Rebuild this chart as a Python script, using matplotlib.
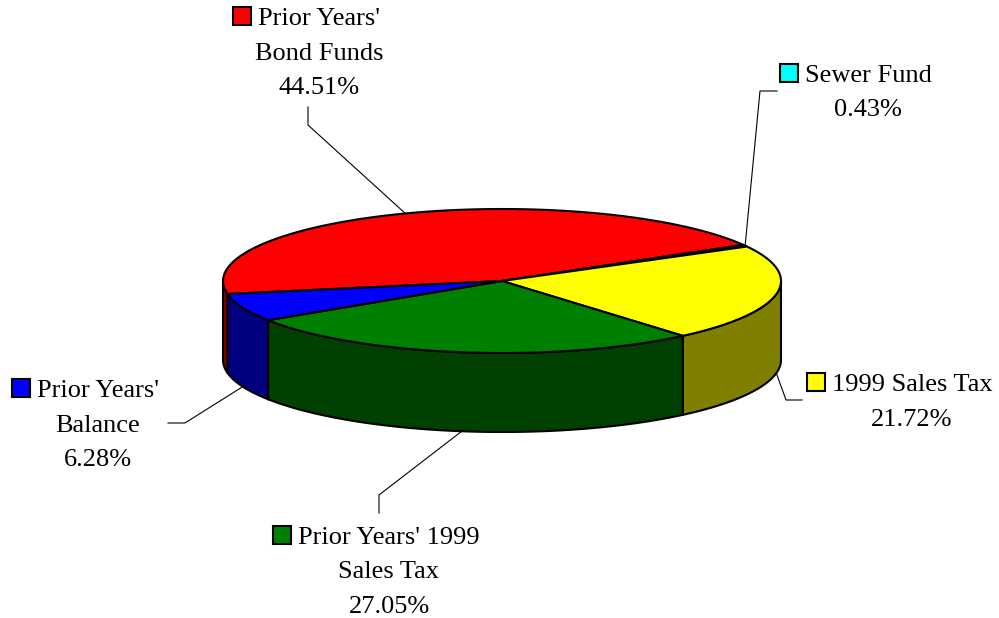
import numpy as np
import matplotlib
matplotlib.use("Agg")
import matplotlib.pyplot as plt
from matplotlib.patches import Polygon, Rectangle

# data
names = ["Prior Years'\nBond Funds", "Sewer Fund", "1999 Sales Tax",
         "Prior Years' 1999\nSales Tax", "Prior Years'\nBalance"]
shares = [44.51, 0.43, 21.72, 27.05, 6.28]
top_colors = ["#FF0000", "#00FFFF", "#FFFF00", "#008000", "#0000FF"]
side_colors = ["#800000", "#008080", "#808000", "#004000", "#000080"]

# layout, in pixels from top-left
cx, cy = 502, 281
rx, ry = 279, 72
depth = 79
start_angle = 190.4
label_pos = [(319, 25), (868, 82), (912, 391), (389, 544), (98, 397)]
attach_on_top = [True, True, False, False, False]
elbows = [[(308, 125), (308, 107)], [(760, 91), (777, 91)],
          [(786, 400), (802, 400)], [(379, 495), (379, 513)],
          [(185, 423), (168, 423)]]
line_gap = 34.5
font = "Liberation Serif"


def arc(t1, t2, dy=0, n=80):
    t = np.radians(np.linspace(t1, t2, n))
    return np.column_stack([cx + rx * np.cos(t), cy - ry * np.sin(t) + dy])


fig = plt.figure(figsize=(9.99, 6.18), dpi=100)
ax = fig.add_axes([0, 0, 1, 1])
ax.set_xlim(0, 999)
ax.set_ylim(618, 0)
ax.axis("off")

# slice angles, clockwise from start_angle
spans = np.array(shares) / sum(shares) * 360
t_start = start_angle - np.concatenate([[0], np.cumsum(spans)[:-1]])
t_end = t_start - spans

# side walls (front half only)
for i in range(len(shares)):
    for k in (-1, 0, 1):
        lo = max(t_end[i], -180 + 360 * k)
        hi = min(t_start[i], 360 * k)
        if hi > lo:
            pts = np.vstack([arc(lo, hi), arc(hi, lo, depth)])
            ax.add_patch(Polygon(pts, closed=True, facecolor=side_colors[i],
                                 edgecolor="black", lw=1.5, zorder=2))

# top faces
for i in range(len(shares)):
    pts = np.vstack([[cx, cy], arc(t_start[i], t_end[i])])
    ax.add_patch(Polygon(pts, closed=True, facecolor=top_colors[i],
                         edgecolor="black", lw=1.5, joinstyle="round", zorder=3))

# leader lines
for i in range(len(shares)):
    tm = np.radians((t_start[i] + t_end[i]) / 2)
    px = cx + rx * np.cos(tm)
    py = cy - ry * np.sin(tm) + (0 if attach_on_top[i] else depth)
    xs = [px] + [p[0] for p in elbows[i]]
    ys = [py] + [p[1] for p in elbows[i]]
    ax.plot(xs, ys, color="black", lw=0.8, zorder=4)

# labels with legend keys
fig.canvas.draw()
renderer = fig.canvas.get_renderer()
inv = ax.transData.inverted()
for i in range(len(shares)):
    lines = names[i].split("\n") + ["%.2f%%" % shares[i]]
    x, y0 = label_pos[i]
    first = None
    for j, ln in enumerate(lines):
        t = ax.text(x, y0 + j * line_gap, ln, ha="center", va="baseline",
                    fontsize=19, family=font, color="black", zorder=5)
        if j == 0:
            first = t
    bb = first.get_window_extent(renderer)
    left = inv.transform((bb.x0, bb.y0))[0]
    ax.add_patch(Rectangle((left - 25, y0 - 18), 18, 18, facecolor=top_colors[i],
                           edgecolor="black", lw=1.5, zorder=5))

fig.savefig("out.png", dpi=100)
